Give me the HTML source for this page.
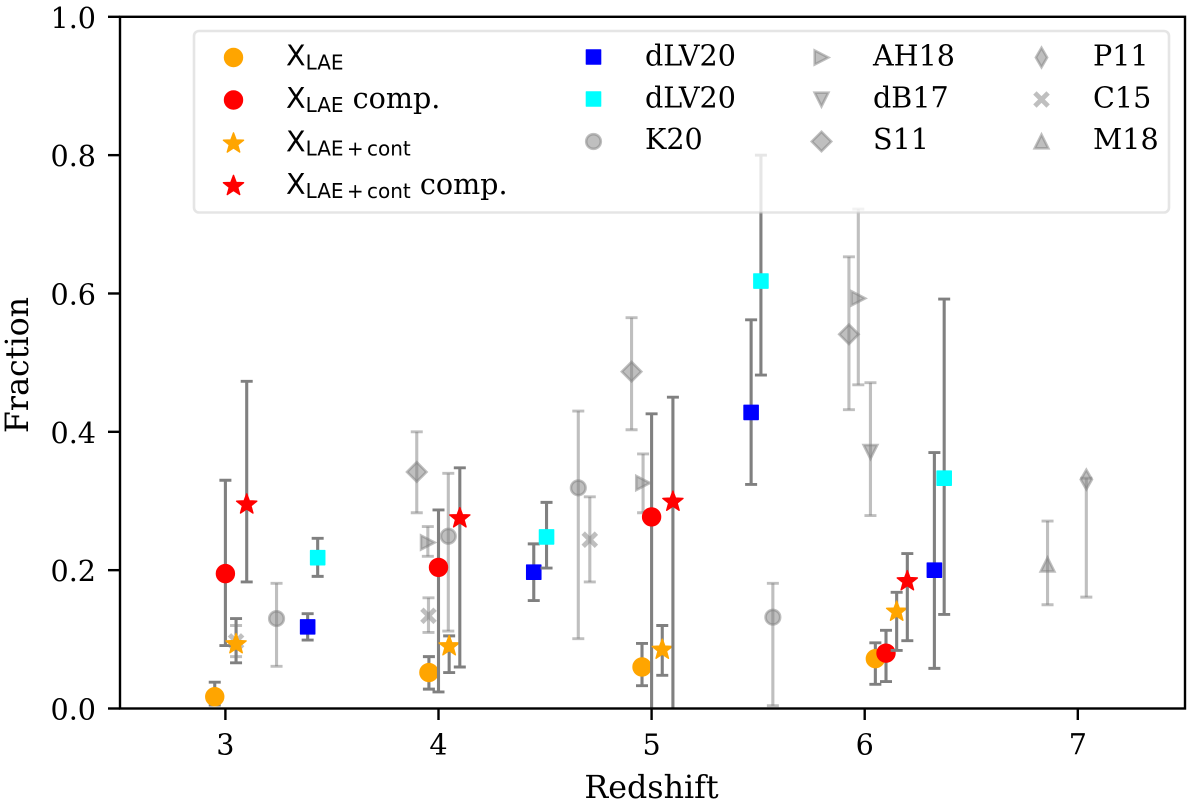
<!DOCTYPE html>
<html lang="en">
<head>
<meta charset="utf-8">
<title>Fraction vs Redshift</title>
<style>
html,body{margin:0;padding:0;background:#fff;}
svg{display:block;}
text{fill:#000;}
.serif{font-family:"DejaVu Serif","Liberation Serif",serif;font-size:28.6px;}
.title{font-family:"DejaVu Serif","Liberation Serif",serif;font-size:31.7px;}
.sans{font-family:"DejaVu Sans","Liberation Sans",sans-serif;font-size:28.6px;}
.sub{font-family:"DejaVu Sans","Liberation Sans",sans-serif;font-size:20px;}
.tight{word-spacing:-3px;}
</style>
</head>
<body>
<svg id="chart" width="1200" height="808" viewBox="0 0 1200 808" xmlns="http://www.w3.org/2000/svg">
  <defs>
    <clipPath id="plot-clip"><rect x="120" y="16.8" width="1065" height="691.7"/></clipPath>
  </defs>
  <rect x="0" y="0" width="1200" height="808" fill="#fff"/>
  <g id="marks" clip-path="url(#plot-clip)"></g>

  <g id="legend">
    <rect x="194" y="31" width="975" height="181.5" rx="5" ry="5" fill="#fff" fill-opacity="0.8" stroke="#ccc" stroke-opacity="0.5" stroke-width="2.6"/>
    <g id="legend-markers"></g>
    <text x="286" y="65.5" class="sans">X<tspan class="sub" dy="4">LAE</tspan></text>
    <text x="286" y="108" class="sans">X<tspan class="sub" dy="4">LAE</tspan><tspan class="serif" dy="-4"> comp.</tspan></text>
    <text x="286" y="151.5" class="sans">X<tspan class="sub tight" dy="4">LAE + cont</tspan></text>
    <text x="286" y="194" class="sans">X<tspan class="sub tight" dy="4">LAE + cont</tspan><tspan class="serif" dy="-4"> comp.</tspan></text>
    <text x="645" y="65.5" class="serif">dLV20</text>
    <text x="645" y="107.5" class="serif">dLV20</text>
    <text x="645" y="149" class="serif">K20</text>
    <text x="873" y="65.5" class="serif">AH18</text>
    <text x="873" y="107.5" class="serif">dB17</text>
    <text x="873" y="149" class="serif">S11</text>
    <text x="1093" y="65.5" class="serif">P11</text>
    <text x="1093" y="107.5" class="serif">C15</text>
    <text x="1093" y="149" class="serif">M18</text>
  </g>

  <g id="axes"></g>
  <text x="651.5" y="798" text-anchor="middle" class="title">Redshift</text>
  <text transform="translate(28,365) rotate(-90)" text-anchor="middle" class="title">Fraction</text>
</svg>

<script>
// Tick labels
const xTicks = [3, 4, 5, 6, 7];
const yTicks = ["0.0", "0.2", "0.4", "0.6", "0.8", "1.0"];

// X_LAE
const xlaeZ  = [2.95, 3.955, 4.955, 6.05];
const xlaeY  = [0.017, 0.052, 0.060, 0.072];
const xlaeLo = [0.005, 0.028, 0.033, 0.035];
const xlaeHi = [0.038, 0.075, 0.094, 0.095];

// X_LAE completeness corrected
const xlaeCompZ  = [3.0, 4.0, 5.0, 6.1];
const xlaeCompY  = [0.195, 0.204, 0.277, 0.080];
const xlaeCompLo = [0.091, 0.024, -0.05, 0.039];
const xlaeCompHi = [0.330, 0.287, 0.426, 0.113];

// X_LAE+cont
const xcontZ  = [3.05, 4.05, 5.05, 6.15];
const xcontY  = [0.093, 0.090, 0.085, 0.140];
const xcontLo = [0.066, 0.052, 0.048, 0.084];
const xcontHi = [0.130, 0.105, 0.120, 0.168];

// X_LAE+cont completeness corrected
const xcontCompZ  = [3.1, 4.1, 5.1, 6.2];
const xcontCompY  = [0.295, 0.275, 0.299, 0.184];
const xcontCompLo = [0.183, 0.060, -0.05, 0.098];
const xcontCompHi = [0.473, 0.348, 0.450, 0.224];

// dLV20 (blue)
const dlvBlueZ  = [3.386, 4.447, 5.467, 6.327];
const dlvBlueY  = [0.118, 0.197, 0.428, 0.200];
const dlvBlueLo = [0.099, 0.156, 0.324, 0.058];
const dlvBlueHi = [0.137, 0.238, 0.562, 0.370];

// dLV20 (cyan)
const dlvCyanZ  = [3.433, 4.507, 5.513, 6.373];
const dlvCyanY  = [0.218, 0.248, 0.618, 0.333];
const dlvCyanLo = [0.191, 0.203, 0.482, 0.136];
const dlvCyanHi = [0.246, 0.298, 0.800, 0.592];

// K20
const k20Z  = [3.24, 4.046, 4.656, 5.569];
const k20Y  = [0.130, 0.249, 0.319, 0.132];
const k20Lo = [0.061, 0.112, 0.101, 0.004];
const k20Hi = [0.181, 0.340, 0.430, 0.181];

// AH18
const ah18Z  = [3.95, 4.96, 5.97];
const ah18Y  = [0.240, 0.326, 0.593];
const ah18Lo = [0.220, 0.283, 0.468];
const ah18Hi = [0.263, 0.368, 0.722];

// dB17
const db17Z  = [6.027];
const db17Y  = [0.371];
const db17Lo = [0.279];
const db17Hi = [0.471];

// S11
const s11Z  = [3.898, 4.906, 5.926];
const s11Y  = [0.342, 0.487, 0.541];
const s11Lo = [0.283, 0.403, 0.432];
const s11Hi = [0.400, 0.565, 0.653];

// P11
const p11Z  = [7.04];
const p11Y  = [0.331];
const p11Lo = [0.161];
const p11Hi = [0.333];

// C15
const c15Z  = [3.05, 3.953, 4.71];
const c15Y  = [0.097, 0.134, 0.244];
const c15Lo = [0.075, 0.110, 0.183];
const c15Hi = [0.120, 0.160, 0.306];

// M18
const m18Z  = [6.858];
const m18Y  = [0.208];
const m18Lo = [0.150];
const m18Hi = [0.271];

const NS = "http://www.w3.org/2000/svg";
const marksG = document.getElementById("marks");
const legendG = document.getElementById("legend-markers");
const axesG = document.getElementById("axes");

function xScale(z) { return 225.4 + (z - 3) * 213.1; }
function yScale(v) { return 708.5 - v * 691.7; }

function make(parent, tag, attrs) {
  const el = document.createElementNS(NS, tag);
  for (const k in attrs) el.setAttribute(k, attrs[k]);
  parent.appendChild(el);
  return el;
}

function starPath(r) {
  const inner = r * 0.42;
  let d = "";
  for (let i = 0; i < 10; i++) {
    const rad = i % 2 === 0 ? r : inner;
    const a = -Math.PI / 2 + i * Math.PI / 5;
    d += (i ? "L" : "M") + (rad * Math.cos(a)).toFixed(2) + " " + (rad * Math.sin(a)).toFixed(2);
  }
  return d + "Z";
}

const shapes = {
  circle: "M-9 0A9 9 0 1 0 9 0A9 9 0 1 0 -9 0Z",
  smallCircle: "M-7.3 0A7.3 7.3 0 1 0 7.3 0A7.3 7.3 0 1 0 -7.3 0Z",
  square: "M-7.1 -7.1H7.1V7.1H-7.1Z",
  star: starPath(10.6),
  triRight: "M-6.8 -7L6.8 0L-6.8 7Z",
  triDown: "M-6.8 -6.8H6.8L0 6.8Z",
  triUp: "M-6.8 6.8H6.8L0 -6.8Z",
  diamond: "M-9.7 0L0 -9.7L9.7 0L0 9.7Z",
  thinDiamond: "M-5.6 0L0 -9.7L5.6 0L0 9.7Z",
  cross: "M-6.6 -6.6L6.6 6.6M-6.6 6.6L6.6 -6.6"
};

function drawMarker(parent, px, py, shape, color, faint) {
  const attrs = {
    d: shapes[shape],
    transform: "translate(" + px + "," + py + ")"
  };
  if (shape === "cross") {
    attrs.fill = "none";
    attrs.stroke = "#808080";
    attrs["stroke-opacity"] = 0.5;
    attrs["stroke-width"] = 4.8;
  } else if (faint) {
    attrs.fill = "#808080";
    attrs["fill-opacity"] = 0.5;
    attrs.stroke = "#808080";
    attrs["stroke-opacity"] = 0.5;
    attrs["stroke-width"] = 2.6;
    attrs["stroke-linejoin"] = "miter";
  } else {
    attrs.fill = color;
    attrs.stroke = color;
    attrs["stroke-width"] = 1.4;
    attrs["stroke-linejoin"] = "round";
  }
  return make(parent, "path", attrs);
}

function drawSeries(name, zs, ys, los, his, shape, color, faint) {
  const g = make(marksG, "g", {});
  
  
  const op = faint ? 0.5 : 1;
  for (let i = 0; i < zs.length; i++) {
    const px = xScale(zs[i]);
    const yLo = yScale(los[i]);
    const yHi = yScale(his[i]);
    const bar = make(g, "path", {
      d: "M" + px + " " + yLo + "V" + yHi,
      stroke: "#808080",
      "stroke-width": 3.1,
      "stroke-opacity": op,
      fill: "none"
    });
    
    
    const caps = make(g, "path", {
      d: "M" + (px - 6) + " " + yLo + "H" + (px + 6) + "M" + (px - 6) + " " + yHi + "H" + (px + 6),
      stroke: "#808080",
      "stroke-width": 2.9,
      "stroke-opacity": op,
      fill: "none"
    });
    
    
    const m = drawMarker(g, px, yScale(ys[i]), shape, color, faint);
    
    
  }
}

// Faint literature comparison points first, then the main results
drawSeries("k20", k20Z, k20Y, k20Lo, k20Hi, "smallCircle", "#808080", true);
drawSeries("ah18", ah18Z, ah18Y, ah18Lo, ah18Hi, "triRight", "#808080", true);
drawSeries("db17", db17Z, db17Y, db17Lo, db17Hi, "triDown", "#808080", true);
drawSeries("s11", s11Z, s11Y, s11Lo, s11Hi, "diamond", "#808080", true);
drawSeries("p11", p11Z, p11Y, p11Lo, p11Hi, "thinDiamond", "#808080", true);
drawSeries("c15", c15Z, c15Y, c15Lo, c15Hi, "cross", "#808080", true);
drawSeries("m18", m18Z, m18Y, m18Lo, m18Hi, "triUp", "#808080", true);
drawSeries("dlv20-blue", dlvBlueZ, dlvBlueY, dlvBlueLo, dlvBlueHi, "square", "#0000ff", false);
drawSeries("dlv20-cyan", dlvCyanZ, dlvCyanY, dlvCyanLo, dlvCyanHi, "square", "#00ffff", false);
drawSeries("xlae", xlaeZ, xlaeY, xlaeLo, xlaeHi, "circle", "#ffa500", false);
drawSeries("xlae-comp", xlaeCompZ, xlaeCompY, xlaeCompLo, xlaeCompHi, "circle", "#ff0000", false);
drawSeries("xlae-cont", xcontZ, xcontY, xcontLo, xcontHi, "star", "#ffa500", false);
drawSeries("xlae-cont-comp", xcontCompZ, xcontCompY, xcontCompLo, xcontCompHi, "star", "#ff0000", false);

// Legend swatches
function legendSwatch(name, px, py, shape, color, faint) {
  const m = drawMarker(legendG, px, py, shape, color, faint);
  
  
}
legendSwatch("xlae", 233.5, 57.5, "circle", "#ffa500", false);
legendSwatch("xlae-comp", 233.5, 100, "circle", "#ff0000", false);
legendSwatch("xlae-cont", 233.5, 143.5, "star", "#ffa500", false);
legendSwatch("xlae-cont-comp", 233.5, 186, "star", "#ff0000", false);
legendSwatch("dlv20-blue", 593.5, 57, "square", "#0000ff", false);
legendSwatch("dlv20-cyan", 593.5, 99, "square", "#00ffff", false);
legendSwatch("k20", 593.5, 141.5, "smallCircle", "#808080", true);
legendSwatch("ah18", 821.5, 57.5, "triRight", "#808080", true);
legendSwatch("db17", 821.5, 99.5, "triDown", "#808080", true);
legendSwatch("s11", 821.5, 141.5, "diamond", "#808080", true);
legendSwatch("p11", 1041.5, 57.5, "thinDiamond", "#808080", true);
legendSwatch("c15", 1041.5, 99.5, "cross", "#808080", true);
legendSwatch("m18", 1041.5, 141.5, "triUp", "#808080", true);

// Axes
const frame = make(axesG, "rect", { x: 120, y: 16.8, width: 1065, height: 691.7, fill: "none", stroke: "#000", "stroke-width": 2.4 });



xTicks.forEach(function (t) {
  const px = xScale(t);
  const tick = make(axesG, "line", { x1: px, x2: px, y1: 708.5, y2: 720, stroke: "#000", "stroke-width": 2.4 });
  
  
  const label = make(axesG, "text", { x: px, y: 754.5, "text-anchor": "middle", "class": "serif" });
  
  
  label.textContent = t;
});

yTicks.forEach(function (t) {
  const py = yScale(parseFloat(t));
  const tick = make(axesG, "line", { x1: 108, x2: 120, y1: py, y2: py, stroke: "#000", "stroke-width": 2.4 });
  
  
  const label = make(axesG, "text", { x: 96, y: py + 11, "text-anchor": "end", "class": "serif" });
  
  
  label.textContent = t;
});
</script>
</body>
</html>
